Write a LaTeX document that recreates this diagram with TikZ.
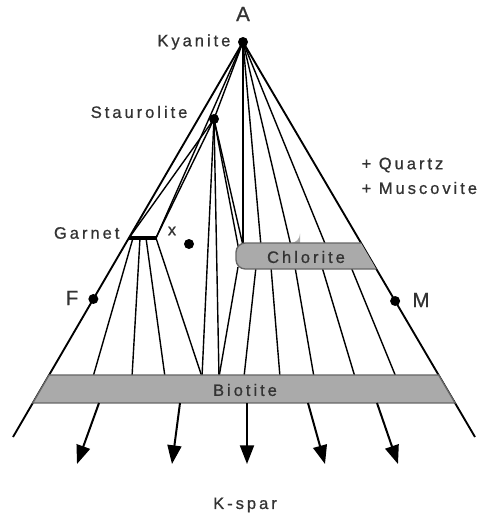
\documentclass[tikz,border=0pt]{standalone}
\usepackage{fontspec}
\setmainfont{Liberation Sans}
\newfontfamily\labfont{Liberation Sans}[LetterSpace=18, FakeBold=0.8]
\usetikzlibrary{arrows.meta, calc}

\definecolor{bandgray}{HTML}{AAAAAA}
\definecolor{bandedge}{HTML}{666666}
\definecolor{labgray}{HTML}{333333}

\tikzset{
  % --- Linien -----------------------------------------------
  tie/.style={line width=1.05pt, black},
  edgeline/.style={line width=1.4pt, black},
  garbar/.style={line width=3.6pt, black},
  kfarr/.style={-{Triangle[length=14pt,width=10.5pt]}, line width=1.5pt},
  % --- Felder -----------------------------------------------
  band/.style={fill=bandgray, draw=bandedge, line width=1pt},
  % --- Punkte und Texte -------------------------------------
  dot/.style={circle, fill=black, inner sep=0pt, minimum size=7.5pt},
  lab/.style={font=\labfont\fontsize{12.4}{14}\selectfont, text=labgray, inner sep=1pt},
  biglab/.style={font=\labfont\fontsize{15.5}{18}\selectfont, text=labgray, inner sep=1pt}
}

\begin{document}
\begin{tikzpicture}[x=0.75pt, y=-0.75pt]
  \useasboundingbox (0,0) rectangle (483,514);

  % --- Ecken und Phasen ---------------------------------------
  \coordinate (Kya) at (243,42);
  \coordinate (Sta) at (214,119);
  \coordinate (LeftEnd) at (13,437);
  \coordinate (RightEnd) at (475,437);
  \coordinate (GarL) at (129,238);
  \coordinate (GarR) at (156,238);
  \coordinate (g1) at (133,238);
  \coordinate (g2) at (140,238);
  \coordinate (g3) at (146,238);
  \coordinate (sc1) at (244,250);
  \coordinate (sc2) at (240,256);
  \foreach \i/\x in {1/93,2/132,3/165,4/202,5/219,6/244,7/280,8/314,9/355,10/396}
    \coordinate (b\i) at (\x,377);
  \foreach \i/\x in {1/238,2/256,3/271,4/295,5/322,6/351}
    \coordinate (cb\i) at (\x,267);
  \foreach \i/\x in {1/243,2/261,3/291,4/326}
    \coordinate (ct\i) at (\x,246);
  \foreach \i/\xa/\xb in {1/99/77,2/180/172,3/247/247,4/308/325,5/377/398}{
    \coordinate (as\i) at (\xa,403);
    \coordinate (ae\i) at (\xb,464);
  }

  % --- Konoden ------------------------------------------------
  \draw[tie] (Kya) -- (Sta);
  \draw[tie] (Kya) -- (GarR);
  \draw[tie] (Sta) -- (GarL);
  \draw[tie] (Sta) -- (GarR);
  \draw[tie] (Sta) -- (b4);
  \draw[tie] (Sta) -- (b5);
  \draw[tie] (Sta) -- (sc1);
  \draw[tie] (Sta) -- (sc2);
  \draw[tie] (g1) -- (b1);
  \draw[tie] (g2) -- (b2);
  \draw[tie] (g3) -- (b3);
  \draw[tie] (GarR) -- (b4);
  \draw[tie] (Kya) -- (ct1);
  \draw[tie] (Kya) -- (ct2);
  \draw[tie] (Kya) -- (ct3);
  \draw[tie] (Kya) -- (ct4);
  \draw[tie] (cb1) -- (b5);
  \draw[tie] (cb2) -- (b6);
  \draw[tie] (cb3) -- (b7);
  \draw[tie] (cb4) -- (b8);
  \draw[tie] (cb5) -- (b9);
  \draw[tie] (cb6) -- (b10);

  % --- Dreieck ------------------------------------------------
  \draw[edgeline] (Kya) -- (LeftEnd);
  \draw[edgeline] (Kya) -- (RightEnd);

  % --- Chlorit und Biotit -------------------------------------
  \coordinate (chr1) at ($(Kya)!0.5089!(RightEnd)$);
  \coordinate (chr2) at ($(Kya)!0.5747!(RightEnd)$);
  \fill[bandgray] (300,243) -- (chr1) -- (chr2) -- (300,269)
    [rounded corners=7pt] -- (236,269) -- (236,243) -- (300,243) [sharp corners] -- cycle;
  \draw[bandedge, line width=1pt] (chr2) -- (300,269)
    [rounded corners=7pt] -- (236,269) -- (236,243) -- (300,243) [sharp corners] -- (chr1);
  \node[lab] (Chl) at (306,257) {Chlorite};

  \coordinate (btl) at ($(Kya)!0.8430!(LeftEnd)$);
  \coordinate (bbl) at ($(Kya)!0.9139!(LeftEnd)$);
  \coordinate (btr) at ($(Kya)!0.8430!(RightEnd)$);
  \coordinate (bbr) at ($(Kya)!0.9139!(RightEnd)$);
  \draw[band] (btl) -- (btr) -- (bbr) -- (bbl) -- cycle;
  \node[lab] (Bio) at (245,390) {Biotite};

  % --- Granat und Punkte --------------------------------------
  \draw[garbar] (GarL) -- (GarR);
  \node[dot] (KyaDot) at (Kya) {};
  \node[dot] (StaDot) at (Sta) {};
  \node[dot] (XDot) at (189,244) {};
  \node[dot] (FDot) at ($(Kya)!0.6506!(LeftEnd)$) {};
  \node[dot] (MDot) at ($(Kya)!0.6557!(RightEnd)$) {};

  % --- K-Feldspat-Pfeile --------------------------------------
  \draw[kfarr] (as1) -- (ae1);
  \draw[kfarr] (as2) -- (ae2);
  \draw[kfarr] (as3) -- (ae3);
  \draw[kfarr] (as4) -- (ae4);
  \draw[kfarr] (as5) -- (ae5);

  % --- Beschriftung -------------------------------------------
  \node[biglab] (lA) at (243,14) {A};
  \node[lab, anchor=east] (lKya) at (232,42) {Kyanite};
  \node[lab, anchor=east] (lSta) at (189,112) {Staurolite};
  \node[lab, anchor=east] (lGar) at (121,233) {Garnet};
  \node[lab] (lX) at (172,231) {x};
  \node[biglab] (lF) at (72,298) {F};
  \node[biglab] (lM) at (421,300) {M};
  \node[lab, anchor=west] (lQtz) at (360,165) {+ Quartz};
  \node[lab, anchor=west] (lMus) at (360,188) {+ Muscovite};
  \node[lab] (lKsp) at (245,505) {K-spar};

\end{tikzpicture}
\end{document}
